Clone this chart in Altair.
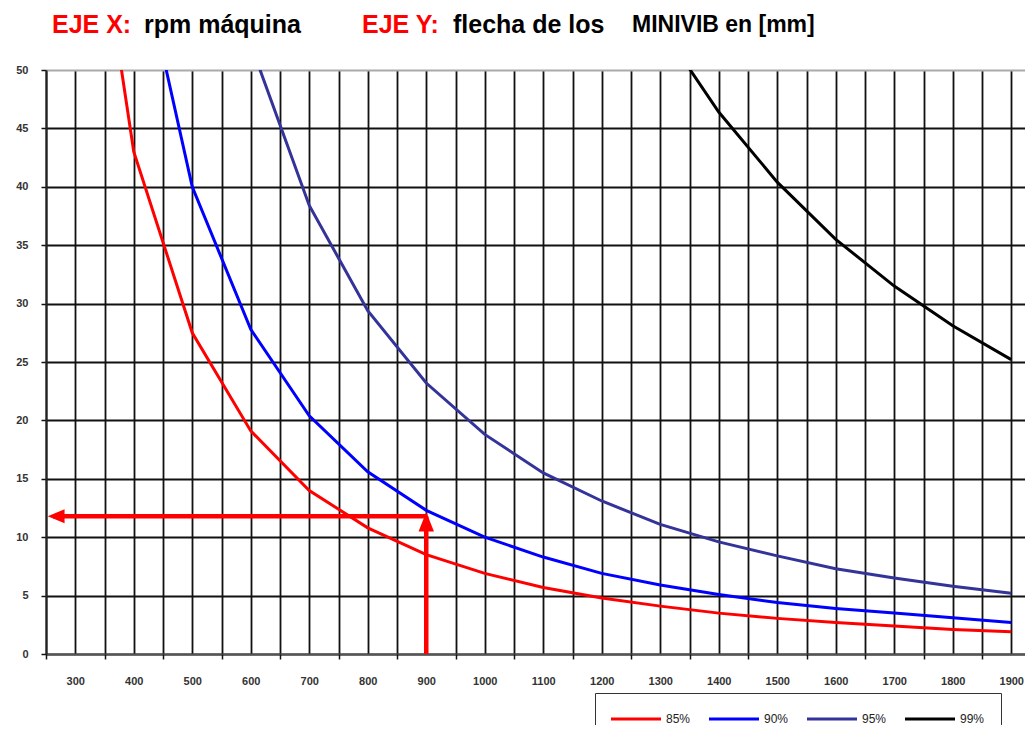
import altair as alt
import pandas as pd

# ---- data ----
rpm = [300, 400, 500, 600, 700, 800, 900, 1000, 1100, 1200, 1300, 1400, 1500, 1600, 1700, 1800, 1900]
serie_85 = [76.4, 43.0, 27.5, 19.1, 14.0, 10.8, 8.5, 6.9, 5.7, 4.8, 4.1, 3.5, 3.05, 2.7, 2.4, 2.1, 1.9]
serie_90 = [None, 62.5, 40.0, 27.8, 20.4, 15.6, 12.3, 10.0, 8.3, 6.9, 5.9, 5.1, 4.4, 3.9, 3.5, 3.1, 2.7]
serie_95 = [None, None, None, 52.2, 38.4, 29.4, 23.2, 18.8, 15.5, 13.1, 11.1, 9.6, 8.4, 7.3, 6.5, 5.8, 5.2]
serie_99 = [None, None, None, None, None, None, None, None, None, None, 53.8, 46.4, 40.4, 35.5, 31.5, 28.1, 25.2]
series_names = ["85%", "90%", "95%", "99%"]
series_colors = ["#ff0000", "#0000ff", "#333399", "#000000"]

x_labels = list(range(300, 1901, 100))      # labelled category centres
x_bounds = list(range(250, 1851, 100))      # tick marks between categories
y_ticks = list(range(0, 51, 5))

lectura_rpm = [900]
lectura_mm = [11.8]
flecha_fin_rpm = [262]
flecha_punta_rpm = [253]

# ---- build tables ----
rows = []
for name, vals in zip(series_names, [serie_85, serie_90, serie_95, serie_99]):
    for r, v in zip(rpm, vals):
        if v is not None:
            rows.append({"rpm": r, "mm": v, "serie": name})
df = pd.DataFrame(rows)

arrow = pd.DataFrame({"rpm": lectura_rpm, "mm": lectura_mm, "rpm_fin": flecha_fin_rpm,
                      "rpm_punta": flecha_punta_rpm, "base": [0]})

W, H = 979, 584
FONT = "Liberation Sans"
GRID = "#111111"

xs = alt.Scale(domain=[250, 1923.5], nice=False, zero=False)
ys = alt.Scale(domain=[0, 50], nice=False, zero=True)

x_axis_labels = alt.Axis(
    orient="bottom", values=x_labels, format="d", title=None,
    grid=True, gridColor=GRID, gridWidth=1.8,
    ticks=True, tickSize=5, tickColor="transparent",
    domainColor="#555555", domainWidth=2,
    labelFont=FONT, labelFontSize=11, labelFontWeight="bold", labelColor="#333333",
    labelPadding=16, labelOverlap=False, labelFlush=False,
)
x_axis_bounds = alt.Axis(
    orient="bottom", values=x_bounds, title=None, labels=False,
    grid=True, gridColor=GRID, gridWidth=1.8,
    ticks=True, tickSize=5, tickColor=GRID, tickWidth=1.5,
    domain=False,
)
y_axis = alt.Axis(
    values=y_ticks, title=None, grid=True, gridWidth=1.8,
    gridColor={"condition": {"test": "datum.value === 50", "value": "#aaaaaa"}, "value": GRID},
    tickColor=GRID, tickWidth=1.5, tickSize=5,
    domainColor="#222222", domainWidth=2,
    labelFont=FONT, labelFontSize=11, labelFontWeight="bold", labelColor="#333333",
    labelPadding=13, labelOverlap=False, labelFlush=False,
)

legend = alt.Legend(
    orient="none", legendX=549, legendY=623, direction="horizontal", title=None,
    symbolType="M-1.176,0L4.706,0", symbolSize=289, symbolStrokeWidth=3,
    labelOffset=35, columnPadding=12, padding=16, columns=4,
    strokeColor="#333333", fillColor="white",
    labelFont=FONT, labelFontSize=12, labelColor="#222222",
)

curves = alt.Chart(df).mark_line(strokeWidth=3, clip=True).encode(
    x=alt.X("rpm:Q", scale=xs, axis=x_axis_labels),
    y=alt.Y("mm:Q", scale=ys, axis=y_axis),
    color=alt.Color("serie:N", scale=alt.Scale(domain=series_names, range=series_colors), legend=legend),
)

shaft_v = alt.Chart(arrow).mark_rule(color="#ff0000", strokeWidth=4.5).encode(
    x=alt.X("rpm:Q", scale=xs, axis=x_axis_bounds),
    y=alt.Y("base:Q", scale=ys),
    y2="mm:Q",
)
shaft_h = alt.Chart(arrow).mark_rule(color="#ff0000", strokeWidth=4.5).encode(
    x=alt.X("rpm:Q", scale=xs, axis=None), x2="rpm_fin:Q",
    y=alt.Y("mm:Q", scale=ys),
)
head_v = alt.Chart(arrow).mark_point(
    shape="M0,-0.3L0.55,1.1L-0.55,1.1Z", size=784, filled=True, color="#ff0000", opacity=1, strokeWidth=0
).encode(x=alt.X("rpm:Q", scale=xs, axis=None), y=alt.Y("mm:Q", scale=ys))
head_h = alt.Chart(arrow).mark_point(
    shape="M0,0L1.2,-0.5L1.2,0.5Z", size=784, filled=True, color="#ff0000", opacity=1, strokeWidth=0
).encode(x=alt.X("rpm_punta:Q", scale=xs, axis=None), y=alt.Y("mm:Q", scale=ys))

one = pd.DataFrame({"k": [0]})
def txt(s, x, y, size, color):
    return alt.Chart(one).mark_text(
        text=s, align="left", baseline="alphabetic", font=FONT, fontSize=size,
        fontWeight="bold", color=color
    ).encode(x=alt.value(x), y=alt.value(y))

titles = [
    txt("EJE X:", 6, -37, 25, "#ff0000"),
    txt("rpm máquina", 98, -37, 25, "#000000"),
    txt("EJE Y:", 316, -37, 25, "#ff0000"),
    txt("flecha de los", 407, -37, 25, "#000000"),
    txt("MINIVIB en [mm]", 586, -38, 23, "#000000"),
]

chart = alt.layer(curves, shaft_v, shaft_h, head_v, head_h, *titles).resolve_axis(
    x="independent"
).properties(
    width=W, height=H, autosize="none",
    padding={"left": 38, "top": 62, "right": 0, "bottom": 71},
    background="white",
).configure_view(stroke=None)

chart.save("out.html", embed_options={"renderer": "svg", "actions": False})
